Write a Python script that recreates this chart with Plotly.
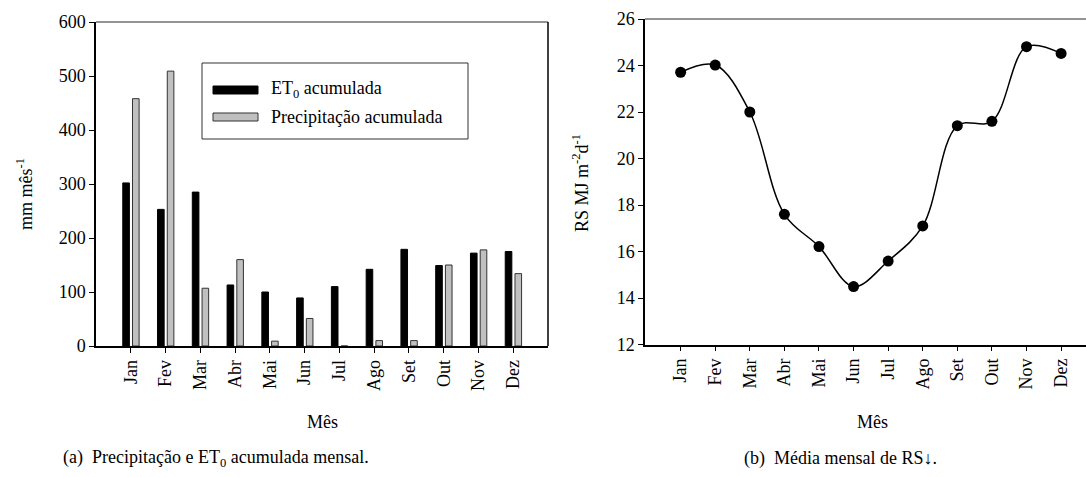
import plotly.graph_objects as go

months = ["Jan", "Fev", "Mar", "Abr", "Mai", "Jun", "Jul", "Ago", "Set", "Out", "Nov", "Dez"]
et0_acum = [302, 253, 285, 113, 100, 89, 110, 142, 179, 149, 172, 175]
precip_acum = [458, 509, 107, 160, 9, 51, 0, 10, 10, 150, 178, 134]
rs_media = [23.71, 24.02, 22.0, 17.6, 16.21, 14.49, 15.59, 17.1, 21.41, 21.6, 24.81, 24.52]
y1_ticks = [0, 100, 200, 300, 400, 500, 600]
y2_ticks = [12, 14, 16, 18, 20, 22, 24, 26]

W, H = 1086, 477
FONT = '"Liberation Serif", "Times New Roman", Times, "DejaVu Serif", serif'
FS = 18


def px(x):
    return x / W


def py(y):
    return 1 - y / H


fig = go.Figure()

fig.add_trace(go.Bar(
    x=months, y=et0_acum, name="ET<sub>0</sub> acumulada",
    width=0.19, offset=-0.23,
    marker=dict(color="black", line=dict(color="black", width=1)),
    xaxis="x", yaxis="y", showlegend=False,
))
fig.add_trace(go.Bar(
    x=months, y=precip_acum, name="Precipitação acumulada",
    width=0.19, offset=0.05,
    marker=dict(color="#c0c0c0", line=dict(color="#333333", width=1)),
    xaxis="x", yaxis="y", showlegend=False,
))
fig.add_trace(go.Scatter(
    x=months, y=rs_media, mode="lines+markers", name="RS",
    line=dict(color="black", width=1.5, shape="spline", smoothing=1),
    marker=dict(color="black", size=11),
    xaxis="x2", yaxis="y2", showlegend=False,
))

axis_common = dict(
    showgrid=False, zeroline=False, showline=True, linecolor="black", linewidth=1.5,
    ticks="outside", ticklen=5, tickwidth=1, tickcolor="black",
    tickfont=dict(family=FONT, size=FS, color="black"), automargin=False,
)

L_left, L_right, L_top, L_bot = 96, 548, 22, 346
R_left, R_right, R_top, R_bot = 645, 1086, 19, 344.5

fig.update_layout(
    width=W, height=H,
    margin=dict(l=0, r=0, t=0, b=0),
    paper_bgcolor="white", plot_bgcolor="white",
    barmode="overlay",
    font=dict(family=FONT, size=FS, color="black"),
    xaxis=dict(axis_common, domain=[px(L_left), px(L_right)], type="category",
               categoryorder="array", categoryarray=months, range=[-1, 12],
               tickangle=-90, anchor="y"),
    yaxis=dict(axis_common, domain=[py(L_bot), py(L_top)], range=[0, 600],
               tickvals=y1_ticks, anchor="x"),
    xaxis2=dict(axis_common, domain=[px(R_left), px(R_right)], type="category",
                categoryorder="array", categoryarray=months, range=[-1.03, 11.72],
                tickangle=-90, anchor="y2"),
    yaxis2=dict(axis_common, domain=[py(R_bot), py(R_top)], range=[12, 26],
                tickvals=y2_ticks, anchor="x2"),
)

shapes = [
    dict(type="line", xref="paper", yref="paper", x0=px(L_left), x1=px(L_right),
         y0=py(L_top), y1=py(L_top), line=dict(color="#707070", width=1.5)),
    dict(type="line", xref="paper", yref="paper", x0=px(L_right), x1=px(L_right),
         y0=py(L_top), y1=py(L_bot), line=dict(color="black", width=1.5)),
    dict(type="line", xref="paper", yref="paper", x0=px(R_left), x1=1,
         y0=py(R_top), y1=py(R_top), line=dict(color="#707070", width=1.5)),
    dict(type="rect", xref="paper", yref="paper", x0=px(202), x1=px(468),
         y0=py(139), y1=py(63), line=dict(color="#333333", width=1), fillcolor="white"),
    dict(type="rect", xref="paper", yref="paper", x0=px(213), x1=px(258),
         y0=py(94), y1=py(86), line=dict(color="black", width=1), fillcolor="black"),
    dict(type="rect", xref="paper", yref="paper", x0=px(213), x1=px(258),
         y0=py(121), y1=py(113), line=dict(color="#333333", width=1), fillcolor="#c0c0c0"),
]
fig.update_layout(shapes=shapes)

annotations = [
    dict(text="ET<sub>0</sub> acumulada", x=px(269), y=py(90), xanchor="left", yanchor="middle"),
    dict(text="Precipitação acumulada", x=px(269), y=py(117), xanchor="left", yanchor="middle"),
    dict(text="Mês", x=px(322), y=py(422), xanchor="center", yanchor="middle"),
    dict(text="Mês", x=px(872), y=py(422), xanchor="center", yanchor="middle"),
    dict(text="mm mês<sup>-1</sup>", x=px(24), y=py(194), xanchor="center", yanchor="middle",
         textangle=-90),
    dict(text="RS MJ m<sup>-2</sup>d<sup>-1</sup>", x=px(580), y=py(183), xanchor="center",
         yanchor="middle", textangle=-90),
    dict(text="(a)  Precipitação e ET<sub>0</sub> acumulada mensal.", x=px(216), y=py(458),
         xanchor="center", yanchor="middle"),
    dict(text="(b)  Média mensal de RS↓.", x=px(840), y=py(458),
         xanchor="center", yanchor="middle"),
]
for a in annotations:
    a.update(xref="paper", yref="paper", showarrow=False,
             font=dict(family=FONT, size=FS, color="black"))
fig.update_layout(annotations=annotations)

fig.write_html("out.html", config={"displayModeBar": False},
               post_script="document.body.style.margin='0';")
